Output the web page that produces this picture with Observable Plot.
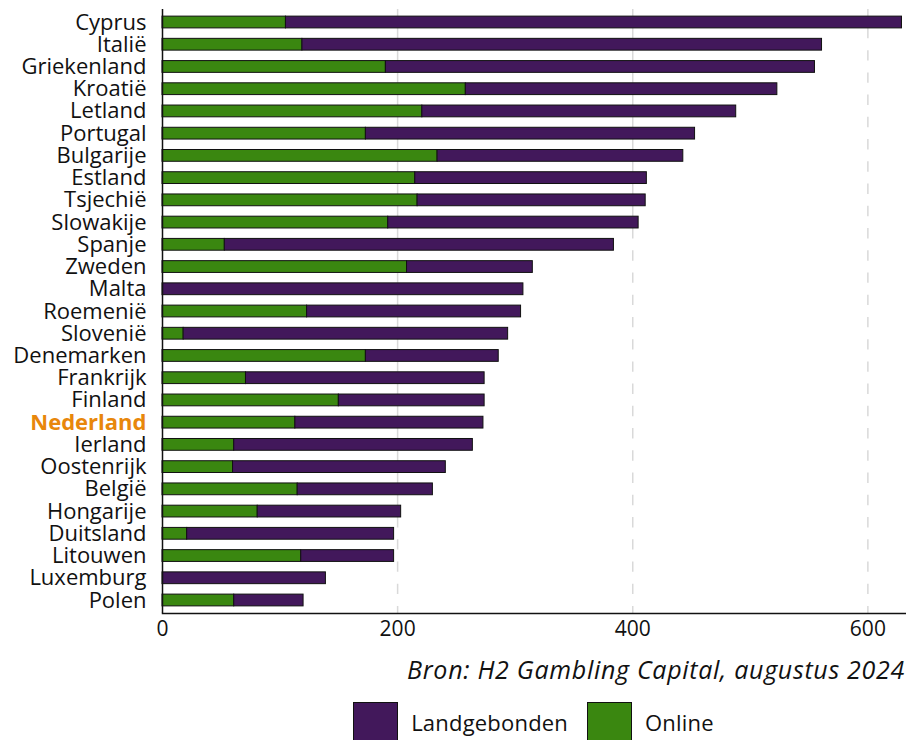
<!DOCTYPE html>
<html>
<head>
<meta charset="utf-8">
<script src="https://cdn.jsdelivr.net/npm/d3@7"></script>
<script src="https://cdn.jsdelivr.net/npm/@observablehq/plot@0.6"></script>
<style>
  html, body { margin: 0; padding: 0; background: #fff; }
  body { width: 906px; font-family: "Open Sans", sans-serif; color: #111; }
  #chart svg { display: block; }
  #caption { position: absolute; top: 652px; right: 1px; font-style: italic; font-size: 25px; letter-spacing: 0.7px; white-space: nowrap; }
  #legend { position: absolute; top: 702px; left: 162px; width: 743px; display: flex; justify-content: center; align-items: center; font-size: 22px; letter-spacing: 0.2px; }
  .sw { width: 45px; height: 40px; border: 1px solid #111; box-sizing: border-box; margin-right: 13px; }
  .lab { margin-right: 19px; }
  .lab:last-child { margin-right: 0; }
</style>
</head>
<body>
<div id="chart"></div>
<div id="caption"></div>
<div id="legend"></div>
<script>
const countries = ["Cyprus","Italië","Griekenland","Kroatië","Letland","Portugal","Bulgarije","Estland","Tsjechië","Slowakije","Spanje","Zweden","Malta","Roemenië","Slovenië","Denemarken","Frankrijk","Finland","Nederland","Ierland","Oostenrijk","België","Hongarije","Duitsland","Litouwen","Luxemburg","Polen"];
const online       = [105,119,190,258,221,173,234,215,217,192,53,208,0,123,18,173,71,150,113,61,60,115,81,21,118,0,61];
const landgebonden = [524,442,365,265,267,280,209,197,194,213,331,107,307,182,276,113,203,124,160,203,181,115,122,176,79,139,59];
const seriesNames = ["Landgebonden","Online"];
const seriesColors = ["#42185b","#3a8710"];
const xTicks = [0,200,400,600];
const highlight = "Nederland";
const caption = "Bron: H2 Gambling Capital, augustus 2024";

const rows = [];
countries.forEach((c, i) => {
  rows.push({country: c, type: "Online", value: online[i]});
  rows.push({country: c, type: "Landgebonden", value: landgebonden[i]});
});

const chart = Plot.plot({
  width: 906,
  height: 648,
  marginTop: 9,
  marginBottom: 35,
  marginLeft: 162,
  marginRight: 1,
  style: {fontFamily: "'Open Sans', sans-serif", fontSize: "22px", color: "#111", background: "#fff"},
  x: {domain: [0, 632]},
  y: {domain: countries, paddingInner: 0.47, paddingOuter: 0.32, round: false},
  color: {domain: seriesNames, range: seriesColors},
  marks: [
    Plot.gridX(xTicks.slice(1), {stroke: "#d9d9d9", strokeOpacity: 1, strokeWidth: 1.5, strokeDasharray: "10.4,11.83", strokeDashoffset: 3.3}),
    Plot.barX(rows.filter(d => d.value > 0), {x: "value", y: "country", fill: "type", order: ["Online","Landgebonden"], stroke: "#111", strokeWidth: 1}),
    Plot.ruleX([0], {stroke: "#111", strokeWidth: 1.5}),
    Plot.frame({anchor: "bottom", stroke: "#111", strokeWidth: 1.5}),
    Plot.axisX({ticks: xTicks, tickSize: 0, tickPadding: 8, fontSize: 21, label: null}),
    Plot.axisY({tickSize: 0, tickPadding: 16, fontSize: 22, label: null})
  ]
});
document.getElementById("chart").appendChild(chart);

// highlight Nederland label
d3.select(chart).selectAll("g[aria-label='y-axis tick label'] text").each(function() {
  if (this.textContent.trim() === highlight) {
    d3.select(this).attr("fill", "#e8870b").attr("font-weight", "bold");
  }
});

document.getElementById("caption").textContent = caption;
const legend = document.getElementById("legend");
seriesNames.forEach((n, i) => {
  const sw = document.createElement("div"); sw.className = "sw"; sw.style.background = seriesColors[i];
  const lab = document.createElement("span"); lab.className = "lab"; lab.textContent = n;
  legend.appendChild(sw); legend.appendChild(lab);
});
</script>
</body>
</html>
